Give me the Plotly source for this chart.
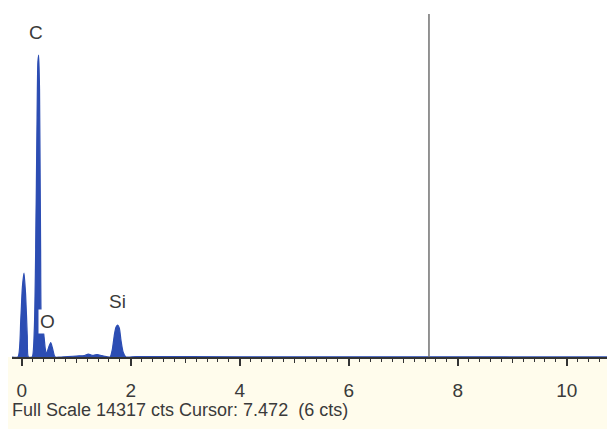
import plotly.graph_objects as go

# Spectrum outline (energy keV, counts)
energy_kev = [-0.18, -0.07, -0.02, 0.01, 0.04, 0.07, 0.10, 0.12,
              0.19, 0.23, 0.255, 0.28, 0.295, 0.31, 0.325, 0.345, 0.355, 0.37, 0.40, 0.43, 0.45,
              0.49, 0.53, 0.56, 0.61, 0.70, 1.00, 1.15, 1.22, 1.30, 1.38, 1.50,
              1.62, 1.66, 1.70, 1.73, 1.76, 1.79, 1.82, 1.86, 1.91, 2.10, 4.0, 6.0, 7.472, 9.0, 10.9]
counts = [0, 0, 1500, 2900, 3500, 2600, 900, 0,
          0, 1200, 4500, 10000, 12300, 12600, 11200, 4500, 1600, 1250, 1000, 350, 120,
          380, 600, 400, 0, 0, 40, 60, 120, 70, 100, 40,
          0, 300, 950, 1250, 1330, 1200, 700, 200, 0, 20, 10, 8, 6, 5, 4]

full_scale = 14317
cursor_kev = 7.472
cursor_cts = 6

peak_labels = ["C", "O", "Si"]
peak_label_kev = [0.26, 0.47, 1.75]
peak_label_cts = [13550, 1500, 2300]

blue = "#2c4db3"
txt = "#3a3a3a"
font_fam = "Liberation Sans, Arial"

fig = go.Figure()
fig.add_trace(go.Scatter(x=energy_kev, y=counts, mode="lines", fill="tozeroy",
                         line=dict(color=blue, width=1.2, shape="spline", smoothing=0.6),
                         fillcolor=blue, hoverinfo="skip", showlegend=False))
# invisible trace for secondary tick axis
fig.add_trace(go.Scatter(x=[0], y=[0], xaxis="x2", mode="markers",
                         marker=dict(opacity=0), showlegend=False, hoverinfo="skip"))

plot_h = 349
xr = [-0.18, 10.886]
yr = [0, full_scale * plot_h / 343]

# cursor line
fig.add_shape(type="line", x0=cursor_kev, x1=cursor_kev, y0=0, y1=full_scale,
              line=dict(color="#707070", width=1.5), layer="above")
# cream band below the axis
fig.add_shape(type="rect", xref="paper", yref="paper", x0=-0.05, x1=1.05, y0=-0.25, y1=0,
              fillcolor="#fffcec", line=dict(width=0), layer="below")

for lab, ex, cy in zip(peak_labels, peak_label_kev, peak_label_cts):
    fig.add_annotation(x=ex, y=cy, text=lab, showarrow=False,
                       font=dict(family=font_fam, size=19, color=txt),
                       bgcolor="white" if lab == "O" else None, borderpad=1)

fig.add_annotation(xref="paper", yref="paper", x=-0.0033, y=-53 / plot_h, xanchor="left",
                   yanchor="middle",
                   text=f"Full Scale {full_scale} cts Cursor: {cursor_kev}  ({cursor_cts} cts)",
                   showarrow=False, font=dict(family=font_fam, size=18, color=txt))

fig.update_layout(
    width=607, height=421,
    margin=dict(l=4, r=0, t=0, b=72),
    paper_bgcolor="white", plot_bgcolor="rgba(0,0,0,0)",
    xaxis=dict(range=xr, showgrid=False, zeroline=False, showline=True, linecolor="#333",
               linewidth=1.5, ticks="outside", tick0=0, dtick=2, ticklen=7, tickwidth=1.5,
               tickcolor="#333", ticklabelstandoff=8,
               tickfont=dict(family=font_fam, size=19, color=txt),
               minor=dict(ticks="outside", dtick=0.2, tick0=0, ticklen=3, tickwidth=1.2,
                          tickcolor="#333")),
    xaxis2=dict(range=xr, overlaying="x", side="bottom", anchor="y", showgrid=False,
                zeroline=False, showticklabels=False, ticks="outside", tick0=1, dtick=2,
                ticklen=5, tickwidth=1.3, tickcolor="#333"),
    yaxis=dict(range=yr, visible=False, showgrid=False, zeroline=False),
)

fig.write_html("out.html")
